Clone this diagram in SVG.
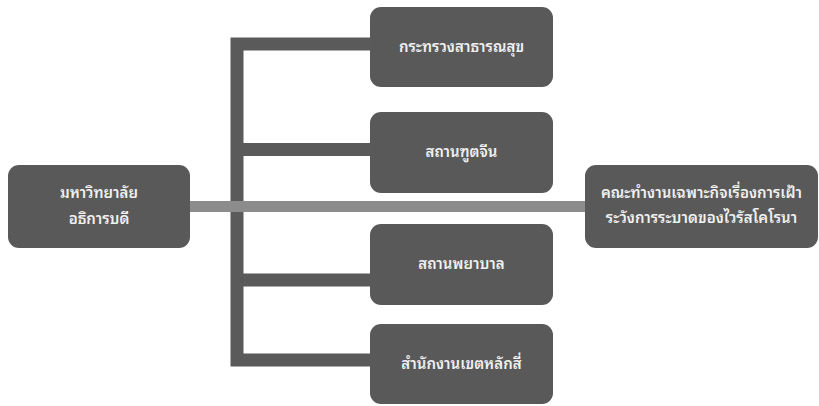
<svg xmlns="http://www.w3.org/2000/svg" width="819" height="406" viewBox="0 0 819 406">
<style>
.box{fill:#595959;}
.t{fill:#f0f0f0;font-family:"Noto Sans Thai Looped","Noto Sans Thai","Noto Sans","DejaVu Sans",sans-serif;font-size:15px;font-weight:600;text-anchor:middle;}
.dark{fill:none;stroke:#5a5a5a;stroke-width:13;stroke-linejoin:miter;}
.light{fill:none;stroke:#8c8c8c;stroke-width:11;}
</style>
<rect width="819" height="406" fill="#ffffff"/>
<g id="connectors">
<path class="dark" d="M372 44 H237 V360 H372"/>
<path class="dark" d="M237 149.5 H372"/>
<path class="dark" d="M237 280 H372"/>
<path class="light" d="M188 206.5 H587"/>
</g>
<g id="node-university">
<rect class="box" x="8" y="165" width="182" height="83" rx="11"/>
<text class="t" x="99" y="198">มหาวิทยาลัย</text>
<text class="t" x="99" y="224">อธิการบดี</text>
</g>
<g id="node-moph">
<rect class="box" x="370" y="7" width="183" height="80" rx="11"/>
<text class="t" x="461.5" y="52">กระทรวงสาธารณสุข</text>
</g>
<g id="node-embassy">
<rect class="box" x="370" y="112" width="183" height="81" rx="11"/>
<text class="t" x="461.5" y="157">สถานฑูตจีน</text>
</g>
<g id="node-hospital">
<rect class="box" x="370" y="224" width="183" height="81" rx="11"/>
<text class="t" x="461.5" y="269">สถานพยาบาล</text>
</g>
<g id="node-district">
<rect class="box" x="370" y="324" width="183" height="80" rx="11"/>
<text class="t" x="461.5" y="369">สำนักงานเขตหลักสี่</text>
</g>
<g id="node-taskforce">
<rect class="box" x="585" y="165" width="233" height="83" rx="11"/>
<text class="t" x="701.5" y="198">คณะทำงานเฉพาะกิจเรื่องการเฝ้า</text>
<text class="t" x="701.5" y="223">ระวังการระบาดของไวรัสโคโรนา</text>
</g>
</svg>
